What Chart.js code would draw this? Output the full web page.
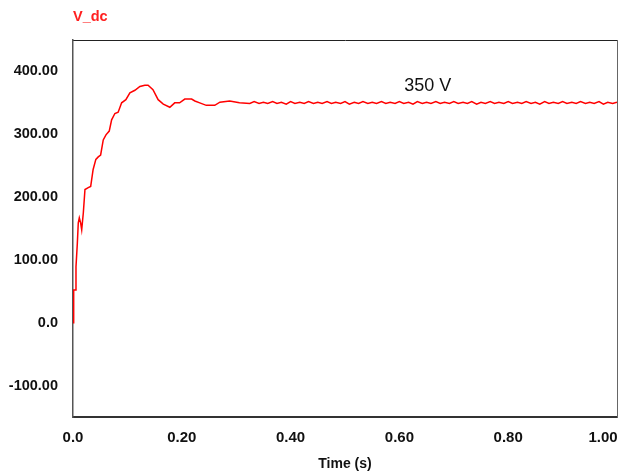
<!DOCTYPE html>
<html>
<head>
<meta charset="utf-8">
<script src="https://cdn.jsdelivr.net/npm/chart.js@4.4.1/dist/chart.umd.min.js"></script>
<style>
  html, body { margin: 0; padding: 0; background: #fff; }
  #wrap { width: 618px; height: 473px; position: relative; }
</style>
</head>
<body>
<div id="wrap"><canvas id="c" width="618" height="473"></canvas></div>
<script>
// ---- data ----
const seriesName = 'V_dc';
const xAxisTitle = 'Time (s)';
const timeS = [
  0, 0.001, 0.0015, 0.0037, 0.0055, 0.008, 0.0097, 0.0116, 0.014, 0.016,
  0.019, 0.022, 0.028, 0.0325, 0.037, 0.042, 0.0464, 0.0508, 0.0556, 0.0606,
  0.0666, 0.071, 0.077, 0.083, 0.0894, 0.0972, 0.1046, 0.1138, 0.123, 0.132,
  0.138, 0.147, 0.1565, 0.166, 0.178, 0.187, 0.196, 0.2055, 0.218, 0.224,
  0.233, 0.245, 0.2606, 0.27, 0.288, 0.306, 0.325,
  0.333,0.342,0.350,0.358,0.367,0.375,0.383,0.392,0.400,0.408,
  0.417,0.425,0.433,0.442,0.450,0.458,0.467,0.475,0.483,0.492,
  0.500,0.508,0.517,0.525,0.533,0.542,0.550,0.558,0.567,0.575,
  0.583,0.592,0.600,0.608,0.617,0.625,0.633,0.642,0.650,0.658,
  0.667,0.675,0.683,0.692,0.700,0.708,0.717,0.725,0.733,0.742,
  0.750,0.758,0.767,0.775,0.783,0.792,0.800,0.808,0.817,0.825,
  0.833,0.842,0.850,0.858,0.867,0.875,0.883,0.892,0.900,0.908,
  0.917,0.925,0.933,0.942,0.950,0.958,0.967,0.975,0.983,0.992,
  1.000
];
const vdcV = [
  0, 20, 52, 52, 89, 127, 159, 167, 159, 148,
  175, 212, 215, 217, 244, 260, 264, 267, 291, 299,
  305, 323, 333, 335, 350, 355, 366, 370, 376, 378,
  378, 371, 355, 348, 343, 350, 350, 356, 356, 353,
  350, 346, 346, 351, 353, 350, 349,
  352,349,351,349,352,349,351,348,352,349,
  351,349,352,349,351,349,352,349,351,349,
  352,348,351,349,352,349,351,349,352,349,
  351,349,352,349,351,348,352,349,351,349,
  352,349,351,349,352,349,351,349,352,348,
  351,349,352,349,351,349,352,349,351,349,
  352,349,351,348,352,349,351,349,352,349,
  351,349,352,349,351,349,352,348,351,349,
  351
];
const xTickValues = [0, 0.2, 0.4, 0.6, 0.8, 1.0];
const xTickLabels = ['0.0', '0.20', '0.40', '0.60', '0.80', '1.00\u2007\u2007\u2007\u2009'];
const yTickValues = [-100, 0, 100, 200, 300, 400];
const yTickLabels = ['-100.00', '0.0', '100.00', '200.00', '300.00', '400.00'];
const annotationText = '350 V';
const annotationAt = { x: 0.609, y: 377 };

const FONT = "'Liberation Sans Narrow', 'Arial Narrow', 'Liberation Sans', Arial, sans-serif";

const annotationPlugin = {
  id: 'annot',
  afterDatasetsDraw(chart) {
    const { ctx, scales } = chart;
    const px = scales.x.getPixelForValue(annotationAt.x);
    const py = scales.y.getPixelForValue(annotationAt.y);
    ctx.save();
    ctx.font = "18px 'Liberation Sans', Arial, sans-serif";
    ctx.fillStyle = '#111';
    ctx.textAlign = 'left';
    ctx.textBaseline = 'middle';
    ctx.fillText(annotationText, px, py);
    ctx.restore();
  }
};

new Chart(document.getElementById('c'), {
  type: 'scatter',
  data: {
    datasets: [{
      label: seriesName,
      data: timeS.map((t, i) => ({ x: t, y: vdcV[i] })),
      showLine: true,
      borderColor: '#ff0000',
      backgroundColor: '#ff0000',
      borderWidth: 1.5,
      pointRadius: 0,
      tension: 0,
      fill: false
    }]
  },
  options: {
    responsive: false,
    animation: false,
    events: [],
    layout: { padding: 0 },
    plugins: { legend: { display: false }, tooltip: { enabled: false }, title: { display: false } },
    scales: {
      x: {
        type: 'linear', position: 'bottom', min: 0, max: 1,
        afterBuildTicks: s => { s.ticks = xTickValues.map(v => ({ value: v })); },
        afterFit: s => { s.height = 56; s.paddingLeft = 0; s.paddingRight = 0; },
        grid: { display: false, drawTicks: false },
        border: { display: true, color: '#333', width: 2 },
        ticks: {
          autoSkip: false, maxRotation: 0, minRotation: 0, padding: 12,
          color: '#111',
          font: { family: FONT, size: 15, weight: 'bold' },
          callback: (v, i) => xTickLabels[i]
        },
        title: {
          display: true, text: xAxisTitle, color: '#111',
          font: { family: FONT, size: 14, weight: 'bold', lineHeight: 1.2 },
          padding: { top: 0, bottom: 0 }
        }
      },
      x2: {
        type: 'linear', position: 'top', min: 0, max: 1,
        afterFit: s => { s.height = 40; s.paddingLeft = 0; s.paddingRight = 0; },
        grid: { display: false, drawTicks: false },
        border: { display: true, color: '#222', width: 1 },
        ticks: { display: false },
        title: {
          display: true, text: seriesName, color: '#ff2020', align: 'start',
          font: { family: FONT, size: 14.5, weight: 'bold', lineHeight: 1.2 },
          padding: { top: 8, bottom: 0 }
        }
      },
      y: {
        type: 'linear', position: 'left', min: -150, max: 450,
        afterBuildTicks: s => { s.ticks = yTickValues.map(v => ({ value: v })); },
        afterFit: s => { s.width = 73; s.paddingTop = 0; s.paddingBottom = 0; },
        grid: { display: false, drawTicks: false },
        border: { display: true, color: '#555', width: 1.5 },
        ticks: {
          padding: 15, color: '#111',
          font: { family: FONT, size: 14.5, weight: 'bold' },
          callback: (v, i) => yTickLabels[i]
        }
      },
      y2: {
        type: 'linear', position: 'right', min: -150, max: 450,
        afterFit: s => { s.width = 1; s.paddingTop = 0; s.paddingBottom = 0; },
        grid: { display: false, drawTicks: false },
        border: { display: true, color: '#666', width: 1 },
        ticks: { display: false }
      }
    }
  },
  plugins: [annotationPlugin]
});
</script>
</body>
</html>
